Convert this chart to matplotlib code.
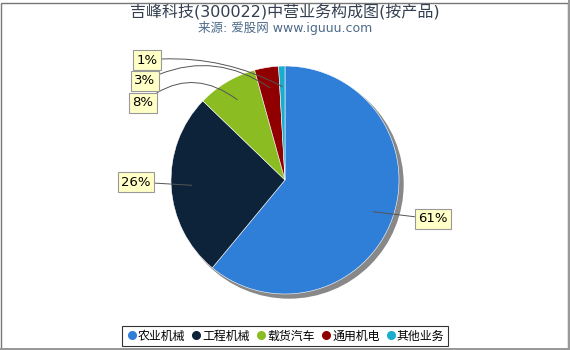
import numpy as np
import matplotlib.pyplot as plt
from matplotlib.patches import Circle, Rectangle
from matplotlib.lines import Line2D

plt.rcParams['font.family'] = ['DejaVu Sans', 'Noto Sans CJK SC']

# data
categories = ['农业机械', '工程机械', '载货汽车', '通用机电', '其他业务']
shares = [61.0, 26.2, 8.5, 3.4, 0.9]
labels = ['61%', '26%', '8%', '3%', '1%']
colors = ['#2f7ed8', '#0d233a', '#8bbc21', '#910000', '#1aadce']

W, H = 570, 350
fig = plt.figure(figsize=(W / 100, H / 100), dpi=100)
ax = fig.add_axes([0, 0, 1, 1])

cx, cy, r = 285, 170, 114

# shadow
ax.add_patch(Circle((cx + 4, cy - 4), r, color='#888888', zorder=1))

wedges, _ = ax.pie(shares, colors=colors, startangle=90, counterclock=False,
                   center=(cx, cy), radius=r, frame=True,
                   wedgeprops=dict(edgecolor='white', linewidth=0.4, zorder=2))
ax.set_xlim(0, W)
ax.set_ylim(0, H)
ax.set_aspect('auto')
ax.axis('off')

# label placements (pixel coords from top-left)
label_pos = [(433, 219), (136, 182), (143, 103), (145, 81), (147, 60)]
rads = [0.0, 0.0, -0.4, -0.3, -0.15]
box = dict(boxstyle='square,pad=0.25', fc='#ffffc6', ec='#999999', lw=0.8)

for w, lab, (lx, ly), rad in zip(wedges, labels, label_pos, rads):
    mid = np.deg2rad((w.theta1 + w.theta2) / 2)
    ax_pt = (cx + 0.82 * r * np.cos(mid), cy + 0.82 * r * np.sin(mid))
    ax.annotate(lab, xy=ax_pt, xytext=(lx, H - ly), ha='center', va='center',
                fontsize=9.5, color='black', bbox=box, zorder=5,
                arrowprops=dict(arrowstyle='-', color='#555555', lw=0.7,
                                connectionstyle=f'arc3,rad={rad}',
                                shrinkA=0, shrinkB=0))

fig.text(0.5, 1 - 12 / H, '吉峰科技(300022)中营业务构成图(按产品)', ha='center', va='center',
         fontsize=11.5, color='#333f50')
fig.text(0.5, 1 - 28 / H, '来源: 爱股网 www.iguuu.com', ha='center', va='center',
         fontsize=9, color='#4d6a8a')

handles = [Line2D([], [], marker='o', ls='none', color=c, markersize=5.5) for c in colors]
leg = fig.legend(handles, categories, loc='center', bbox_to_anchor=(0.5, 1 - 336 / H),
                 ncol=5, frameon=True, fancybox=False, edgecolor='black',
                 fontsize=8.6, handletextpad=0.0, columnspacing=0.45,
                 borderpad=0.3, handlelength=1.0, borderaxespad=0.2)
leg.get_frame().set_linewidth(0.8)

# outer border
fig.patches.append(Rectangle((0.5 / W, 0.5 / H), 1 - 3 / W, 1 - 3 / H, transform=fig.transFigure,
                             fill=False, ec='#777777', lw=1))
fig.patches.append(Rectangle((0, 0), 1, 2 / H, transform=fig.transFigure, fc='#999999', ec='none'))
fig.patches.append(Rectangle((1 - 2 / W, 0), 2 / W, 1, transform=fig.transFigure, fc='#999999', ec='none'))

fig.savefig('out.png', dpi=100)
